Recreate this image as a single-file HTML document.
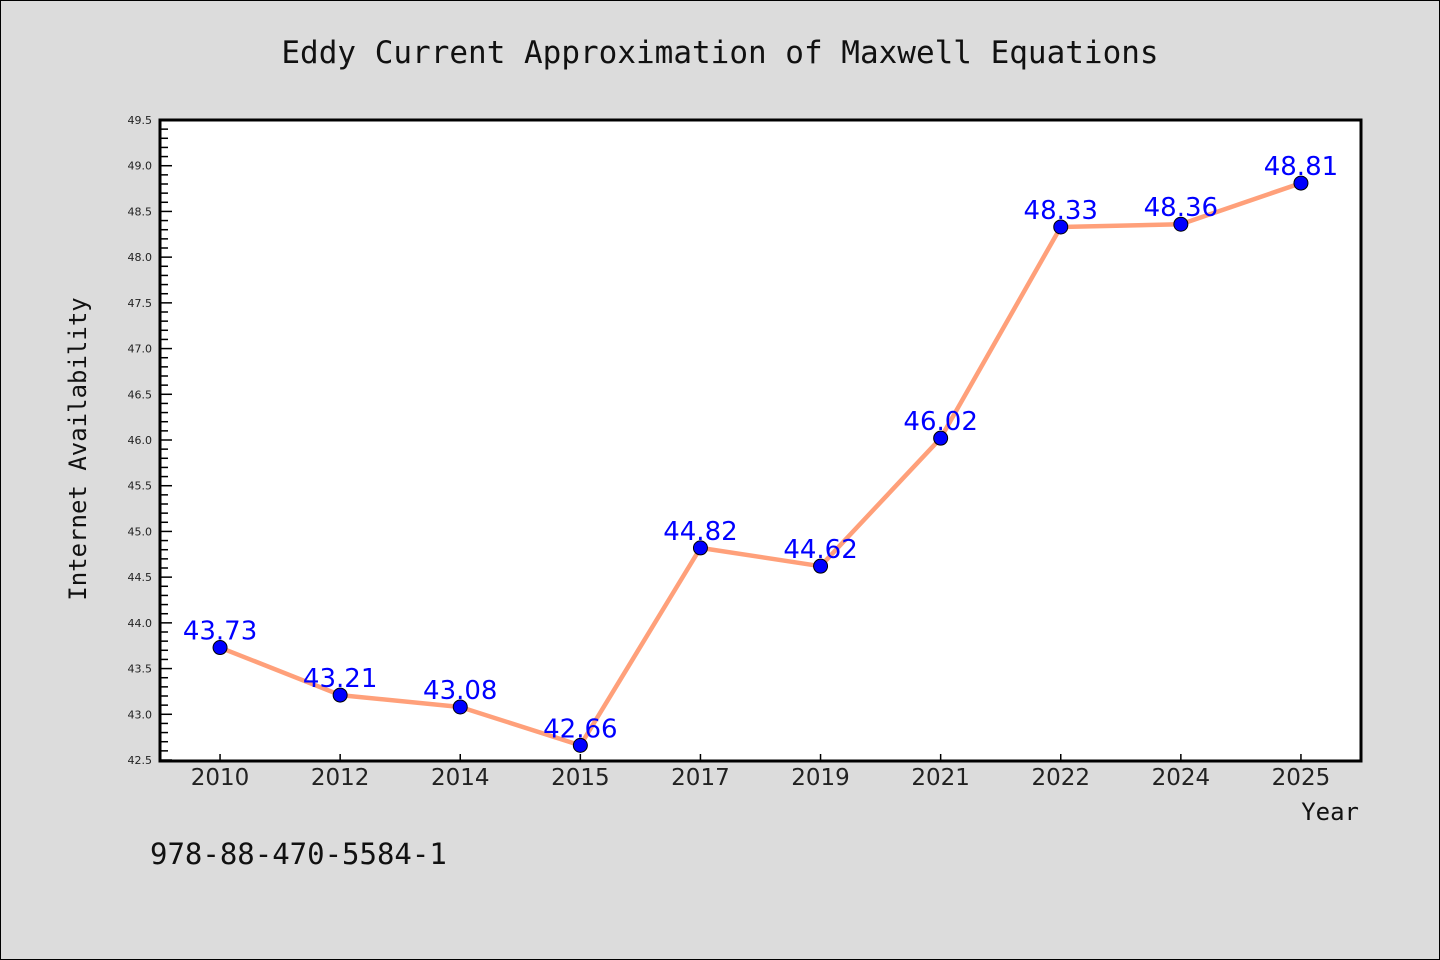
<!DOCTYPE html>
<html><head><meta charset="utf-8"><style>
html,body{margin:0;padding:0;background:#dcdcdc}
svg{display:block}
</style></head><body>
<svg width="1440" height="960" xmlns="http://www.w3.org/2000/svg">
<rect x="0.5" y="0.5" width="1439" height="959" fill="#dcdcdc" stroke="#000"/>
<text x="720" y="63" text-anchor="middle" font-family="DejaVu Sans Mono, Liberation Mono, monospace" font-size="31" fill="#111">Eddy Current Approximation of Maxwell Equations</text>
<rect x="160" y="120" width="1201" height="641" fill="#fff"/>
<g id="ticks"></g>
<g id="series"></g>
<path d="M160 120 V761 H1361 V120 Z" fill="none" stroke="#000" stroke-width="3"/>
<text transform="translate(86,449) rotate(-90)" text-anchor="middle" font-family="DejaVu Sans Mono, Liberation Mono, monospace" font-size="24" fill="#111">Internet Availability</text>
<text x="1359" y="820" text-anchor="end" font-family="DejaVu Sans Mono, Liberation Mono, monospace" font-size="24" fill="#111">Year</text>
<text x="150" y="864" font-family="DejaVu Sans Mono, Liberation Mono, monospace" font-size="29" fill="#111">978-88-470-5584-1</text>
</svg>
<script>
const categories = ["2010","2012","2014","2015","2017","2019","2021","2022","2024","2025"];
const values = [43.73,43.21,43.08,42.66,44.82,44.62,46.02,48.33,48.36,48.81];
const valueLabels = ["43.73","43.21","43.08","42.66","44.82","44.62","46.02","48.33","48.36","48.81"];
const yTickLabels = ["42.5","43.0","43.5","44.0","44.5","45.0","45.5","46.0","46.5","47.0","47.5","48.0","48.5","49.0","49.5"];
const NS="http://www.w3.org/2000/svg";
const L=160,R=1361,T=120,B=760,yMin=42.5,yMax=49.5;
const band=(R-L)/categories.length;
function xs(i){return L+band*(i+0.5);}
function ys(v){return B-(v-yMin)/(yMax-yMin)*(B-T);}
function mk(tag,attrs,parent){const e=document.createElementNS(NS,tag);for(const k in attrs)e.setAttribute(k,attrs[k]);parent.appendChild(e);return e;}
const tg=document.getElementById('ticks'), sg=document.getElementById('series');
for(let k=0;k<=70;k++){
  const v=yMin+k*0.1, y=ys(v), major=k%5===0;
  const t=mk('line',{x1:L,x2:L+(major?12:8),y1:y,y2:y,stroke:'#000','stroke-width':1.5},tg);
  
  
}
yTickLabels.forEach(s=>{
  const t=mk('text',{x:152,y:ys(parseFloat(s))+4,'text-anchor':'end','font-family':'DejaVu Sans, Liberation Sans, sans-serif','font-size':11,fill:'#222'},tg);
  t.textContent=s;
  
  
});
categories.forEach((c,i)=>{
  const x=xs(i);
  const t=mk('line',{x1:x,x2:x,y1:B,y2:B-6,stroke:'#000','stroke-width':1.5},tg);
  
  
  const l=mk('text',{x:x,y:785,'text-anchor':'middle','font-family':'DejaVu Sans, Liberation Sans, sans-serif','font-size':23,fill:'#222'},tg);
  l.textContent=c;
  
  
});
const pts=values.map((v,i)=>xs(i)+','+ys(v)).join(' ');
const line=mk('polyline',{points:pts,fill:'none',stroke:'#ffa07a','stroke-width':4.5,'stroke-linejoin':'round'},sg);


values.forEach((v,i)=>{
  const c=mk('circle',{cx:xs(i),cy:ys(v),r:7,fill:'#0000ff',stroke:'#000','stroke-width':1},sg);
  
  
});
values.forEach((v,i)=>{
  const t=mk('text',{x:xs(i),y:ys(v)-8,'text-anchor':'middle','font-family':'DejaVu Sans, Liberation Sans, sans-serif','font-size':26,fill:'#0000ff'},sg);
  t.textContent=valueLabels[i];
  
  
});
</script>
</body></html>
